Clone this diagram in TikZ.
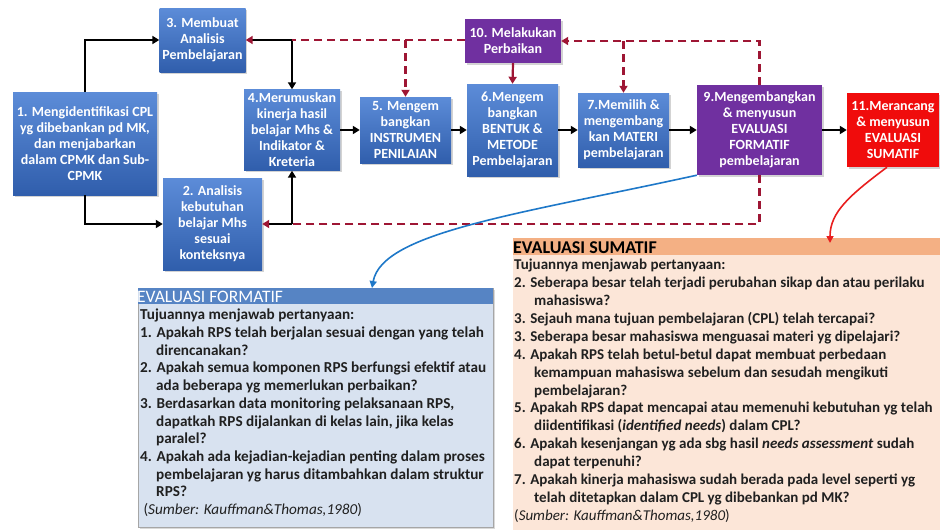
\documentclass[tikz,border=0pt]{standalone}
\usepackage{fontspec}
\setmainfont{Carlito}
\usetikzlibrary{arrows.meta,shadows}
\definecolor{bluetop}{RGB}{92,140,216}
\definecolor{bluebot}{RGB}{48,94,172}
\definecolor{purp}{RGB}{112,48,160}
\definecolor{redbox}{RGB}{240,12,12}
\definecolor{dred}{RGB}{158,22,52}
\definecolor{lineblue}{RGB}{30,120,200}
\definecolor{redline}{RGB}{232,30,30}
\definecolor{fhead}{RGB}{86,132,196}
\definecolor{fbody}{RGB}{216,226,240}
\definecolor{shead}{RGB}{244,176,132}
\definecolor{sbody}{RGB}{252,230,216}
\definecolor{txt}{RGB}{32,32,32}
\tikzset{
  box/.style={draw=none, text=white, font=\bfseries\fontsize{14}{16}\selectfont, align=center, inner sep=1pt,
    drop shadow={opacity=0.35, shadow xshift=1.5pt, shadow yshift=-1.5pt}},
  bluebox/.style={box, top color=bluetop, bottom color=bluebot},
  purpbox/.style={box, fill=purp},
  rbox/.style={box, fill=redbox},
  blk/.style={line width=2.2pt, draw=black, -{Triangle[length=7pt,width=8pt]}},
  blkred/.style={line width=2.2pt, draw=black, -{Triangle[length=7pt,width=8pt,color=dred]}},
  dsh/.style={line width=2.2pt, draw=dred, dash pattern=on 8pt off 5pt},
  dsharr/.style={dsh, -{Triangle[length=7pt,width=8pt]}},
  listtxt/.style={text=txt, align=left, inner sep=0pt, anchor=north west},
}
\begin{document}
\begin{tikzpicture}[x=1pt,y=-1pt]
\useasboundingbox (0,0) rectangle (940,530);
% flow boxes
\node[bluebox, minimum width=144pt, minimum height=103pt] (b1) at (85,143.5)
  {1. Mengidentifikasi CPL\\yg dibebankan pd MK,\\dan menjabarkan\\dalam CPMK dan Sub-\\CPMK};
\node[bluebox, minimum width=86pt, minimum height=64pt] (b3) at (202.5,40)
  {3. Membuat\\Analisis\\Pembelajaran};
\node[bluebox, minimum width=99pt, minimum height=92pt] (b2) at (212.5,224)
  {2. Analisis\\kebutuhan\\belajar Mhs\\sesuai\\konteksnya};
\node[bluebox, minimum width=96pt, minimum height=81pt] (b4) at (292,130)
  {4.Merumuskan\\kinerja hasil\\belajar Mhs \&\\Indikator \&\\Kreteria};
\node[bluebox, minimum width=91pt, minimum height=66pt] (b5) at (405.5,130)
  {5. Mengem\\bangkan\\INSTRUMEN\\PENILAIAN};
\node[purpbox, minimum width=96pt, minimum height=44pt] (b10) at (513,41)
  {10. Melakukan\\Perbaikan};
\node[bluebox, minimum width=91pt, minimum height=92pt] (b6) at (512.5,130)
  {6.Mengem\\bangkan\\BENTUK \&\\METODE\\Pembelajaran};
\node[bluebox, minimum width=91pt, minimum height=74pt] (b7) at (623.5,130)
  {7.Memilih \&\\mengembang\\kan MATERI\\pembelajaran};
\node[purpbox, minimum width=125pt, minimum height=90pt] (b9) at (759.5,130)
  {9.Mengembangkan\\\& menyusun\\EVALUASI\\FORMATIF\\pembelajaran};
\node[rbox, minimum width=92pt, minimum height=74pt] (b11) at (893,130)
  {11.Merancang\\\& menyusun\\EVALUASI\\SUMATIF};
% junctions
\coordinate (j1) at (292,40);
\coordinate (j2) at (292,224);
\coordinate (j3) at (405.5,40);
\coordinate (j4) at (623.5,41);
% black connectors
\draw[blk] (b1.north) |- (b3.west);
\draw[blk] (b1.south) |- (b2.west);
\draw[blkred] (j1) -- (b3.east);
\draw[blk] (j1) -- (b4.north);
\draw[blkred] (j2) -- (b2.east);
\draw[blk] (j2) -- (b4.south);
\draw[blk] (b4) -- (b5);
\draw[blk] (b5) -- (b6);
\draw[blk] (b6) -- (b7);
\draw[blk] (b7) -- (b9);
\draw[blk] (b9) -- (b11);
% dashed feedback
\draw[dsh] (b10.west |- j1) -- (j1);
\draw[dsharr] (j3) -- (b5.north);
\draw[dsharr] (b9.north) |- (b10.east);
\draw[dsharr] (j4) -- (b7.north);
\draw[line width=2.2pt, draw=dred, -{Triangle[length=7pt,width=8pt]}] (b10.south) -- (b6.north);
\draw[dsh] (b9.south) |- (j2);
% evaluation boxes
\node[draw=gray!70, line width=0.8pt, fill=fbody, minimum width=355pt, minimum height=239pt, anchor=north west, inner sep=0pt,
  drop shadow={opacity=0.3, shadow xshift=1.5pt, shadow yshift=-1.5pt}] (form) at (138,288) {};
\node[fill=fhead, minimum width=355pt, minimum height=16pt, anchor=north west, inner sep=0pt] (formh) at (138,288) {};
\node[text=white, font=\fontsize{17.5}{17.5}\selectfont, anchor=west, inner sep=0pt] (formt) at (137,296.5) {EVALUASI FORMATIF};
\node[fill=sbody, minimum width=427pt, minimum height=292pt, anchor=north west, inner sep=0pt] (sum) at (513,238) {};
\node[fill=shead, minimum width=427pt, minimum height=17pt, anchor=north west, inner sep=0pt] (sumh) at (513,238) {};
\node[text=black, font=\bfseries\fontsize{18}{18}\selectfont, anchor=west, inner sep=0pt] (sumt) at (513,247.5) {EVALUASI SUMATIF};
\node[listtxt, font=\bfseries\fontsize{15.2}{17.7}\selectfont] (ftext) at (140,309) {Tujuannya menjawab pertanyaan:\\
1. Apakah RPS telah berjalan sesuai dengan yang telah\\
\hspace*{16pt}direncanakan?\\
2. Apakah semua komponen RPS berfungsi efektif atau\\
\hspace*{16pt}ada beberapa yg memerlukan perbaikan?\\
3. Berdasarkan data monitoring pelaksanaan RPS,\\
\hspace*{16pt}dapatkah RPS dijalankan di kelas lain, jika kelas\\
\hspace*{16pt}paralel?\\
4. Apakah ada kejadian-kejadian penting dalam proses\\
\hspace*{16pt}pembelajaran yg harus ditambahkan dalam struktur\\
\hspace*{16pt}RPS?\\
{\mdseries\ (\textit{Sumber: Kauffman\&Thomas,1980})}};
\node[listtxt, font=\bfseries\fontsize{15}{17.9}\selectfont] (stext) at (514,259) {Tujuannya menjawab pertanyaan:\\
2. Seberapa besar telah terjadi perubahan sikap dan atau perilaku\\
\hspace*{20pt}mahasiswa?\\
3. Sejauh mana tujuan pembelajaran (CPL) telah tercapai?\\
3. Seberapa besar mahasiswa menguasai materi yg dipelajari?\\
4. Apakah RPS telah betul-betul dapat membuat perbedaan\\
\hspace*{20pt}kemampuan mahasiswa sebelum dan sesudah mengikuti\\
\hspace*{20pt}pembelajaran?\\
5. Apakah RPS dapat mencapai atau memenuhi kebutuhan yg telah\\
\hspace*{20pt}diidentifikasi (\textit{identified needs}) dalam CPL?\\
6. Apakah kesenjangan yg ada sbg hasil \textit{needs assessment} sudah\\
\hspace*{20pt}dapat terpenuhi?\\
7. Apakah kinerja mahasiswa sudah berada pada level seperti yg\\
\hspace*{20pt}telah ditetapkan dalam CPL yg dibebankan pd MK?\\
{\mdseries (\textit{Sumber: Kauffman\&Thomas,1980})}};
% curved arrows
\coordinate (fa) at (372,288);
\coordinate (sa) at (830,243);
\draw[lineblue, line width=1.6pt, -{Triangle[length=7pt,width=7pt]}] (b9.south west) .. controls (520,214) and (382,232) .. (fa);
\draw[redline, line width=1.6pt, -{Triangle[length=7pt,width=7pt]}] ([xshift=-6pt]b11.south) .. controls (850,195) and (830,212) .. (sa);
\end{tikzpicture}
\end{document}
